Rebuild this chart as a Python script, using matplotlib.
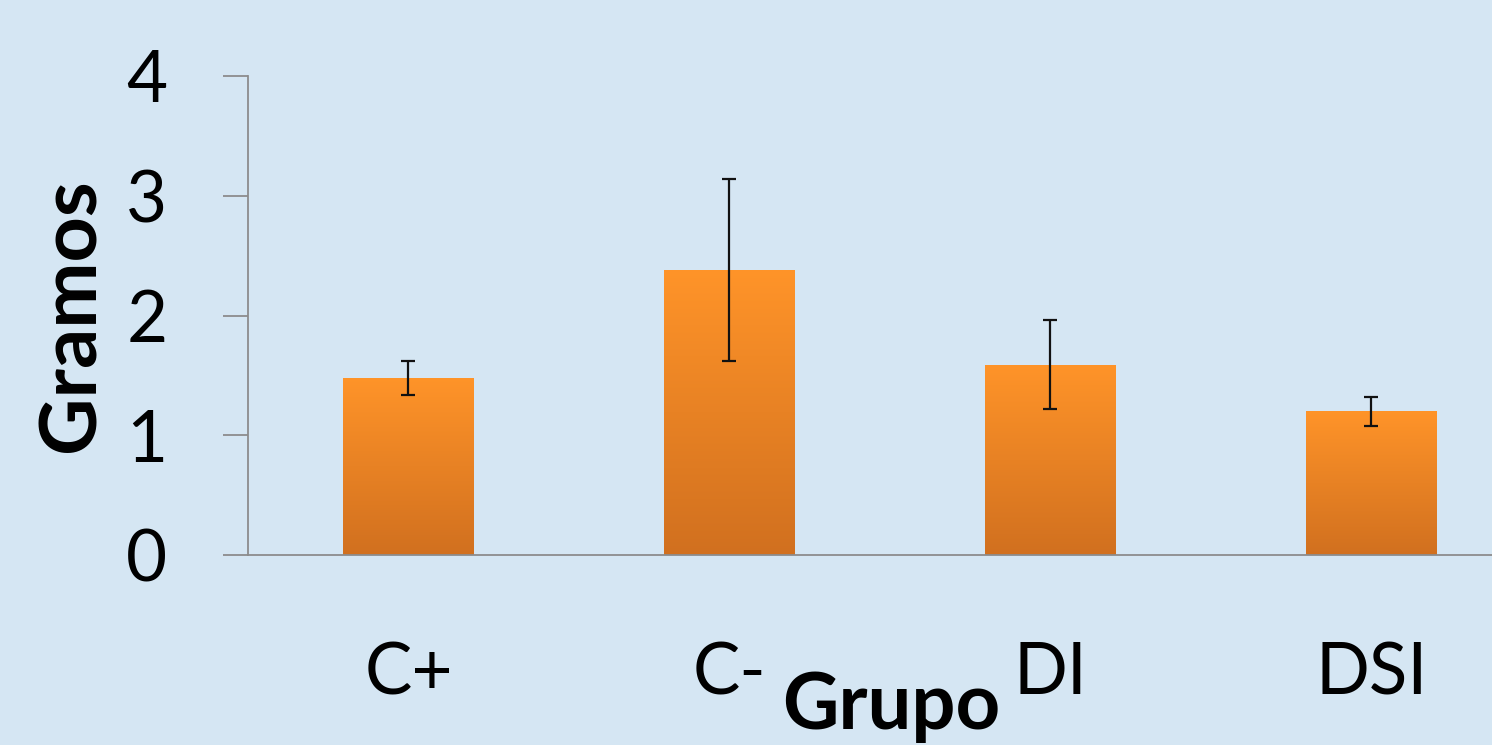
import matplotlib.pyplot as plt
import numpy as np
from matplotlib.colors import LinearSegmentedColormap

##### Data #####
grupos = ['C+', 'C-', 'DI', 'DSI']
gramos = [1.48, 2.38, 1.59, 1.20]
error = [0.14, 0.76, 0.37, 0.12]
y_ticks = [0, 1, 2, 3, 4]

##### Style #####
bg_color = '#d5e6f3'
axis_color = '#8c8c8c'
bar_top = '#ff9429'
bar_bottom = '#d1701f'
plt.rcParams['font.family'] = ['Lato', 'DejaVu Sans']

fig = plt.figure(figsize=(14.92, 7.45), dpi=100)
fig.patch.set_facecolor(bg_color)
# axes run past the right edge like in the original slide
ax = fig.add_axes([0.1662, 0.2550, 0.8606, 0.6430])
ax.set_facecolor('none')

x = np.arange(len(grupos))
bars = ax.bar(x, gramos, width=0.405, color='none', zorder=2)

# vertical gradient on each bar
cmap = LinearSegmentedColormap.from_list('naranja', [bar_bottom, bar_top])
grad = np.linspace(0, 1, 256).reshape(-1, 1)
for b in bars:
    x0, w, h = b.get_x(), b.get_width(), b.get_height()
    im = ax.imshow(grad, cmap=cmap, aspect='auto', origin='lower',
                   extent=[x0, x0 + w, 0, h], zorder=2)
    im.set_clip_path(b)

ax.errorbar(x, gramos, yerr=error, fmt='none', ecolor='#111111',
            elinewidth=1.6, capsize=5, capthick=1.6, zorder=3)

ax.set_xlim(-0.5, 3.5)
ax.set_ylim(0, 4)
ax.set_yticks(y_ticks)
ax.set_xticks(x)
ax.set_xticklabels(grupos)

for side in ['top', 'right']:
    ax.spines[side].set_visible(False)
for side in ['left', 'bottom']:
    ax.spines[side].set_color(axis_color)
    ax.spines[side].set_linewidth(1.3)

ax.tick_params(axis='y', length=18, width=1.3, color=axis_color,
               labelsize=51, pad=40)
ax.tick_params(axis='x', length=0, labelsize=51, pad=62)

# Axis titles
fig.text(72 / 1492, 1 - 315 / 745, 'Gramos', rotation=90, fontsize=57,
         fontweight='bold', ha='center', va='center')
fig.text(891 / 1492, 2 / 745, 'Grupo', fontsize=56,
         fontweight='bold', ha='center', va='bottom')

plt.savefig('out.png', dpi=100, facecolor=fig.get_facecolor())
plt.close()
